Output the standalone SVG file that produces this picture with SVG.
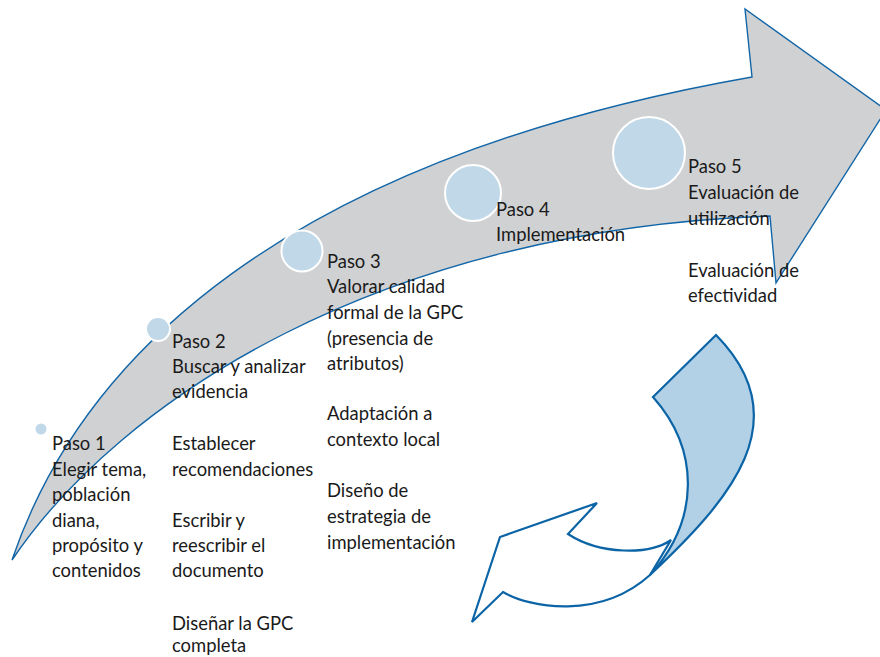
<svg xmlns="http://www.w3.org/2000/svg" width="880" height="657" viewBox="0 0 880 657">
<style>
.arrow{fill:#d0d1d3;stroke:#1266a8;stroke-width:1.4;stroke-linejoin:miter}
.dot{fill:#c0d8e8;stroke:#ffffff;stroke-width:2}
.ret{fill:#ffffff;stroke:#0b64a6;stroke-width:2.2;stroke-linejoin:miter}
.retb{fill:#b3d1e6;stroke:#0b64a6;stroke-width:2.2;stroke-linejoin:miter}
text{font-family:Lato,"Liberation Sans",sans-serif;font-size:18.4px;fill:#1a1a1a}
</style>
<rect width="880" height="657" fill="#ffffff"/>
<g id="main-arrow">
<path class="arrow" d="M12,560 C80,360 280,160 752,77 L745,9 L886,110 L776,283 L770,216 C380,230 120,400 12,560 Z"/>
</g>
<g id="circles">
<circle class="dot" cx="41" cy="429" r="6.5"/>
<circle class="dot" cx="158" cy="329" r="12"/>
<circle class="dot" cx="302" cy="251" r="20.5"/>
<circle class="dot" cx="473" cy="193" r="28"/>
<circle class="dot" cx="649" cy="153" r="36"/>
</g>
<g id="return-arrow">
<path class="ret" d="M671,540 C650,555 600,555 568,534 L597,503 L500,537 L472,622 L503,592 C530,608 600,620 650,575 Z"/>
<path class="retb" d="M716,335 L653,397 C700,450 700,520 650,575 C730,500 800,420 716,335 Z"/>
</g>
<g id="step1">
<text x="52" y="450">Paso 1</text>
<text x="52" y="476">Elegir tema,</text>
<text x="52" y="501">población</text>
<text x="52" y="527">diana,</text>
<text x="52" y="552">propósito y</text>
<text x="52" y="577">contenidos</text>
</g>
<g id="step2">
<text x="172" y="348">Paso 2</text>
<text x="172" y="373">Buscar y analizar</text>
<text x="172" y="398">evidencia</text>
<text x="172" y="450">Establecer</text>
<text x="172" y="476">recomendaciones</text>
<text x="172" y="527">Escribir y</text>
<text x="172" y="552">reescribir el</text>
<text x="172" y="577">documento</text>
<text x="172" y="630">Diseñar la GPC</text>
<text x="172" y="652">completa</text>
</g>
<g id="step3">
<text x="327" y="268">Paso 3</text>
<text x="327" y="293">Valorar calidad</text>
<text x="327" y="319">formal de la GPC</text>
<text x="327" y="345">(presencia de</text>
<text x="327" y="370">atributos)</text>
<text x="327" y="420">Adaptación a</text>
<text x="327" y="446">contexto local</text>
<text x="327" y="497">Diseño de</text>
<text x="327" y="523">estrategia de</text>
<text x="327" y="549">implementación</text>
</g>
<g id="step4">
<text x="496" y="216">Paso 4</text>
<text x="496" y="241">Implementación</text>
</g>
<g id="step5">
<text x="688" y="173">Paso 5</text>
<text x="688" y="199">Evaluación de</text>
<text x="688" y="225">utilización</text>
<text x="688" y="277">Evaluación de</text>
<text x="688" y="302">efectividad</text>
</g>
</svg>
